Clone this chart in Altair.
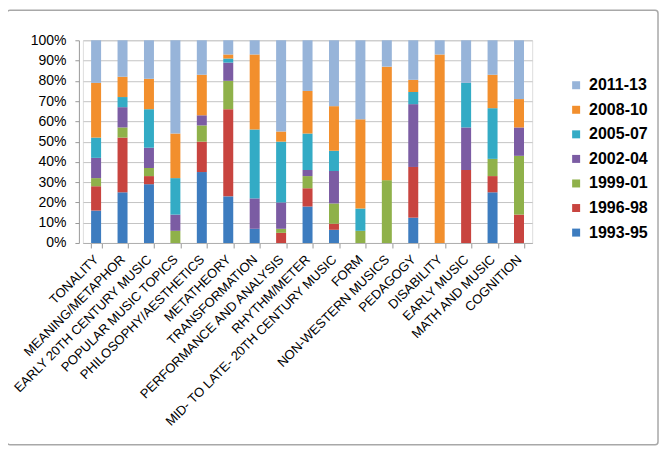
import altair as alt
import pandas as pd

categories = [
    "TONALITY", "MEANING/METAPHOR", "EARLY 20TH CENTURY MUSIC", "POPULAR MUSIC TOPICS",
    "PHILOSOPHY/AESTHETICS", "METATHEORY", "TRANSFORMATION", "PERFORMANCE AND ANALYSIS",
    "RHYTHM/METER", "MID- TO LATE- 20TH CENTURY MUSIC", "FORM", "NON-WESTERN MUSICS",
    "PEDAGOGY", "DISABILITY", "EARLY MUSIC", "MATH AND MUSIC", "COGNITION",
]
series = ["1993-95", "1996-98", "1999-01", "2002-04", "2005-07", "2008-10", "2011-13"]

v1993_95 = [16, 25, 29, 0, 35, 23, 7, 0, 18, 6.5, 0, 0, 12.5, 0, 0, 25, 0]
v1996_98 = [12, 27, 4, 0, 15, 43, 0, 5, 9, 3, 0, 0, 25, 0, 36, 8, 14]
v1999_01 = [4, 5, 4, 6, 8, 14, 0, 2, 6, 10, 6, 31, 0, 0, 0, 8.5, 29]
v2002_04 = [10, 10, 10, 8, 5, 9, 15, 13, 3, 16, 0, 0, 31, 0, 21, 0, 14]
v2005_07 = [10, 5, 19, 18, 0, 2, 34, 30, 18, 10, 11, 0, 6, 0, 22, 25, 0]
v2008_10 = [27, 10, 15, 22, 20, 2, 37, 5, 21, 22, 44, 56, 6, 93, 0, 16.5, 14]
v2011_13 = [21, 18, 19, 46, 17, 7, 7, 45, 25, 32.5, 39, 13, 19.5, 7, 21, 17, 29]

colors = ["#3d7cbf", "#c8443f", "#8fb14a", "#7b5ca3", "#33abc5", "#f28f2d", "#97b4d9"]

values_by_series = [v1993_95, v1996_98, v1999_01, v2002_04, v2005_07, v2008_10, v2011_13]
rows = []
for si, (s, vals) in enumerate(zip(series, values_by_series)):
    for c, v in zip(categories, vals):
        rows.append({"category": c, "series": s, "value": v, "idx": si})
df = pd.DataFrame(rows)

legend_domain = list(reversed(series))
legend_range = list(reversed(colors))

FONT = "Liberation Sans"

bars = alt.Chart(df).mark_bar(size=10).encode(
    x=alt.X("category:N", sort=categories, title=None,
            scale=alt.Scale(paddingInner=0.6, paddingOuter=0.3),
            axis=alt.Axis(labelAngle=-45, labelAlign="right", labelBaseline="middle",
                          labelFontSize=13, labelFont=FONT, labelColor="#000000",
                          labelPadding=9, tickSize=5, tickBand="extent", tickColor="#9a9a9a",
                          domain=True, domainColor="#b0b0b0", labelLimit=400, grid=False)),
    y=alt.Y("value:Q", stack="normalize", title=None,
            scale=alt.Scale(domain=[0, 1], nice=False),
            axis=alt.Axis(format=".0%", values=[i / 10 for i in range(11)],
                          labelFontSize=14, labelFont=FONT, labelColor="#000000",
                          tickSize=4, tickColor="#9a9a9a", domainColor="#9a9a9a",
                          labelPadding=9, offset=4, grid=True, gridColor="#c4c4c4")),
    color=alt.Color("series:N", scale=alt.Scale(domain=legend_domain, range=legend_range),
                    legend=alt.Legend(title=None, orient="none", legendX=486, legendY=37,
                                      labelFontSize=16, labelFont=FONT, labelFontWeight="bold",
                                      labelColor="#000000", symbolType="square", symbolSize=64,
                                      symbolStrokeWidth=0, symbolOpacity=1, rowPadding=8.6,
                                      labelOffset=5, padding=0)),
    order=alt.Order("idx:Q", sort="ascending"),
)

frame = alt.Chart(alt.Data(values=[{"a": 1}])).mark_rect(
    fill="transparent", stroke="#a8a8a8", strokeWidth=1.5, cornerRadius=3
).encode(x=alt.value(-76), x2=alt.value(576), y=alt.value(-30), y2=alt.value(405))

chart = alt.layer(frame, bars).properties(
    width=450, height=203,
    autosize=alt.AutoSizeParams(type="none"),
    padding={"left": 75, "top": 32, "right": 130, "bottom": 210},
).configure_view(stroke=None).configure(background="white")

chart.save("out.html", embed_options={"renderer": "svg", "actions": False})
